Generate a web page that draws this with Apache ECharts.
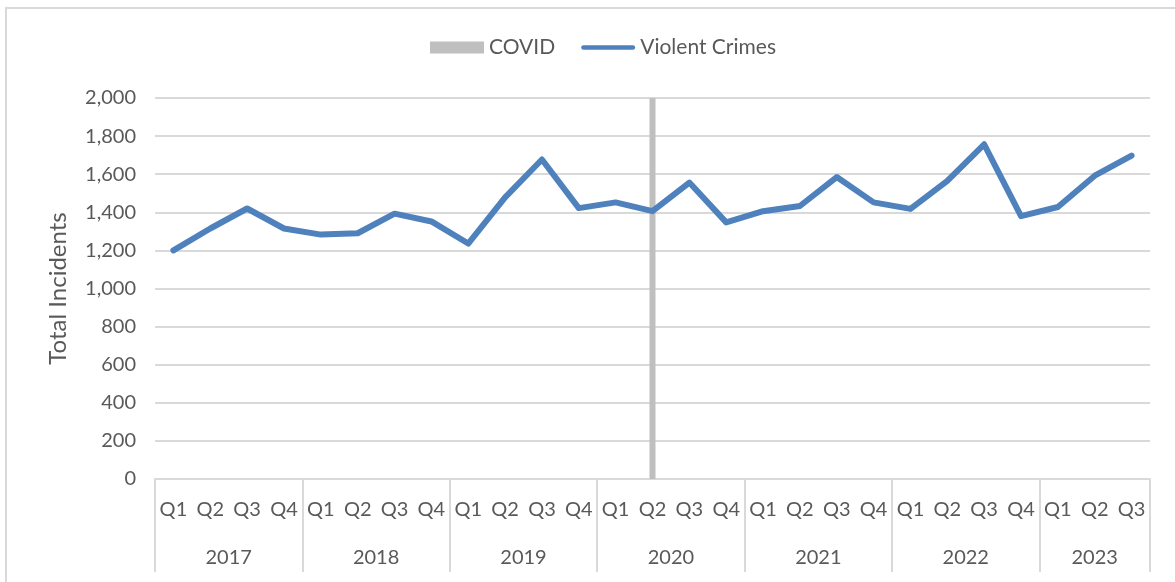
<!DOCTYPE html>
<html>
<head>
<meta charset="utf-8">
<script src="https://cdn.jsdelivr.net/npm/echarts@6/dist/echarts.min.js"></script>
<style>
  html, body { margin: 0; padding: 0; background: #fff; }
  #frame {
    position: absolute; left: 5px; top: 7px; width: 1200px; height: 600px;
    border-left: 2px solid #d9d9d9; border-top: 2px solid #d9d9d9;
  }
  #chart { position: absolute; left: 0; top: 0; width: 1175px; height: 582px; }
</style>
</head>
<body>
<div id="frame"></div>
<div id="chart"></div>
<script>
// Quarterly violent crime counts, 2017 Q1 – 2023 Q3
const years = ['2017', '2018', '2019', '2020', '2021', '2022', '2023'];
const quartersPerYear = [4, 4, 4, 4, 4, 4, 3];
const quarterNames = ['Q1', 'Q2', 'Q3', 'Q4'];

const violentCrimes = [
  1200, 1315, 1420, 1315,   // 2017
  1283, 1290, 1393, 1352,   // 2018
  1236, 1478, 1677, 1422,   // 2019
  1452, 1406, 1556, 1347,   // 2020
  1406, 1433, 1585, 1452,   // 2021
  1418, 1565, 1757, 1380,   // 2022
  1428, 1592, 1698          // 2023
];

// COVID marker: a single full-height bar at 2020 Q2
const covidQuarter = { year: '2020', quarter: 'Q2' };
const covidHeight = 2000;

const yTicks = [0, 200, 400, 600, 800, 1000, 1200, 1400, 1600, 1800, 2000];

// Build the flat quarter category list and year group boundaries
const quarterLabels = [];
const covidData = [];
const yearBounds = [0];
const yearCenters = {};
let idx = 0;
years.forEach((y, i) => {
  const start = idx;
  for (let q = 0; q < quartersPerYear[i]; q++) {
    quarterLabels.push(quarterNames[q]);
    covidData.push(y === covidQuarter.year && quarterNames[q] === covidQuarter.quarter ? covidHeight : null);
    idx++;
  }
  yearBounds.push(idx);
  yearCenters[(start + idx) / 2] = y;
});
const yearCenterValues = Object.keys(yearCenters).map(Number);

const textColor = '#595959';
const gridColor = '#d9d9d9';
const lineColor = '#4f81bd';
const fontFamily = 'Lato, "Open Sans", sans-serif';

// thick rounded stroke used as the line's legend key
const lineKey = 'path://M2.5,0 H55.5 A2.5,2.5 0 0 1 55.5,5 H2.5 A2.5,2.5 0 0 1 2.5,0 Z';

const chart = echarts.init(document.getElementById('chart'), null, { renderer: 'canvas' });
chart.setOption({
  animation: false,
  textStyle: { fontFamily: fontFamily, color: textColor },
  legend: {
    top: 32,
    left: 425,
    itemWidth: 54,
    itemHeight: 12,
    itemGap: 26,
    symbolKeepAspect: true,
    textStyle: { fontSize: 21, color: textColor, fontFamily: fontFamily },
    data: [
      { name: 'COVID', icon: 'rect' },
      { name: 'Violent Crimes', icon: lineKey, itemStyle: { color: lineColor } }
    ]
  },
  grid: { left: 155, right: 25, top: 98, bottom: 103, containLabel: false },
  xAxis: [
    {
      type: 'category',
      data: quarterLabels,
      boundaryGap: true,
      position: 'bottom',
      axisLine: { show: true, lineStyle: { color: gridColor, width: 2 } },
      axisTick: { show: false },
      axisLabel: { interval: 0, margin: 21, fontSize: 20, color: textColor, fontFamily: fontFamily },
      splitLine: { show: false }
    },
    {
      type: 'value',
      min: 0,
      max: quarterLabels.length,
      position: 'bottom',
      axisLine: { show: false },
      splitLine: { show: false },
      axisTick: {
        show: true,
        customValues: yearBounds,
        length: 93,
        lineStyle: { color: gridColor, width: 2 }
      },
      axisLabel: {
        customValues: yearCenterValues,
        formatter: (v) => yearCenters[v] || '',
        margin: 69,
        fontSize: 20,
        color: textColor,
        fontFamily: fontFamily
      }
    }
  ],
  yAxis: {
    type: 'value',
    min: yTicks[0],
    max: yTicks[yTicks.length - 1],
    interval: yTicks[1] - yTicks[0],
    name: 'Total Incidents',
    nameLocation: 'middle',
    nameGap: 85,
    nameTextStyle: { fontSize: 24, color: textColor, fontFamily: fontFamily },
    axisLine: { show: false },
    axisTick: { show: false },
    axisLabel: {
      margin: 19,
      fontSize: 20,
      color: textColor,
      fontFamily: fontFamily,
      formatter: (v) => v.toLocaleString('en-US')
    },
    splitLine: { show: true, lineStyle: { color: gridColor, width: 2 } }
  },
  series: [
    {
      name: 'COVID',
      type: 'bar',
      xAxisIndex: 0,
      data: covidData,
      barWidth: 6,
      itemStyle: { color: '#bfbfbf' }
    },
    {
      name: 'Violent Crimes',
      type: 'line',
      xAxisIndex: 0,
      data: violentCrimes,
      symbol: 'none',
      lineStyle: { color: lineColor, width: 6, join: 'round', cap: 'round' },
      itemStyle: { color: lineColor }
    }
  ]
});
</script>
</body>
</html>
